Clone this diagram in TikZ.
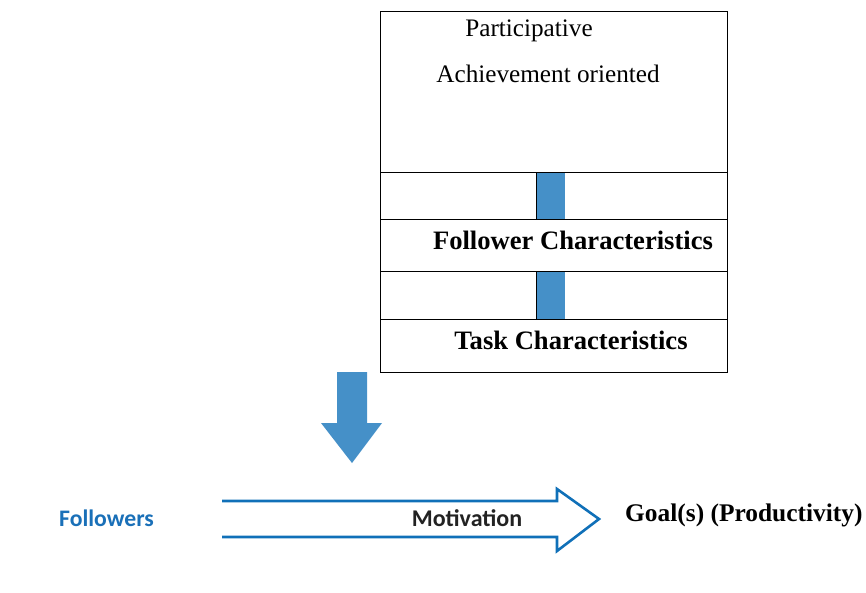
\documentclass[tikz,border=0pt]{standalone}
\usepackage{fontspec}
\setmainfont{Liberation Serif}
\newfontfamily\calib{Carlito}
\definecolor{barblue}{HTML}{4590C8}
\definecolor{lineblue}{HTML}{1070B8}
\definecolor{txtblue}{HTML}{1A70B8}
\definecolor{txtdark}{HTML}{222222}
\begin{document}
\begin{tikzpicture}[x=1pt,y=-1pt,
  row/.style={draw=black,line width=1.2pt,rectangle,inner sep=0pt,anchor=north west},
  serif/.style={font=\fontsize{25.2}{28}\selectfont,anchor=base,inner sep=0pt},
  serifb/.style={font=\fontsize{26.6}{28}\bfseries\selectfont,anchor=base,inner sep=0pt},
  bar/.style={fill=barblue,draw=none},
  label/.style={anchor=base,inner sep=0pt}]
\useasboundingbox (0,0) rectangle (866,592);

% stacked boxes on the right
\node[row,minimum width=347pt,minimum height=161pt] (styles) at (380,11) {};
\node[row,minimum width=347pt,minimum height=47pt] (gap1) at (380,172) {};
\node[row,minimum width=347pt,minimum height=52pt] (follower) at (380,219) {};
\node[row,minimum width=347pt,minimum height=48pt] (gap2) at (380,271) {};
\node[row,minimum width=347pt,minimum height=53pt] (task) at (380,319) {};

% blue links between the rows
\fill[bar] (536.5,172.5) rectangle (565,218.5);
\draw[line width=1pt] (536.5,172.5) -- (536.5,218.5);
\fill[bar] (536.5,271.5) rectangle (565,318.5);
\draw[line width=1pt] (536.5,271.5) -- (536.5,318.5);

\node[serif] (part) at (529,36) {Participative};
\node[serif] (ach) at (548,82) {Achievement oriented};
\node[serifb] (fc) at (573,249) {Follower Characteristics};
\node[serifb] (tc) at (571,349) {Task Characteristics};

% solid down arrow
\fill[barblue] (337,372) -- (367,372) -- (367,423) -- (382,423) -- (352,463)
  -- (321,423) -- (337,423) -- cycle;

% hollow motivation arrow
\draw[lineblue,line width=2.6pt,line join=miter] (222,501) -- (557,501) -- (557,489)
  -- (599,519) -- (557,551) -- (557,537) -- (222,537);

\node[label,font=\calib\fontsize{24}{26}\bfseries\selectfont,text=txtdark] (mot) at (467,526) {Motivation};
\node[label,font=\calib\fontsize{23.7}{26}\bfseries\selectfont,text=txtblue] (fol) at (106.5,526.5) {Followers};
\node[label,font=\fontsize{25.4}{28}\bfseries\selectfont,anchor=base west] (goal) at (625,521) {Goal(s) (Productivity)};
\end{tikzpicture}
\end{document}
